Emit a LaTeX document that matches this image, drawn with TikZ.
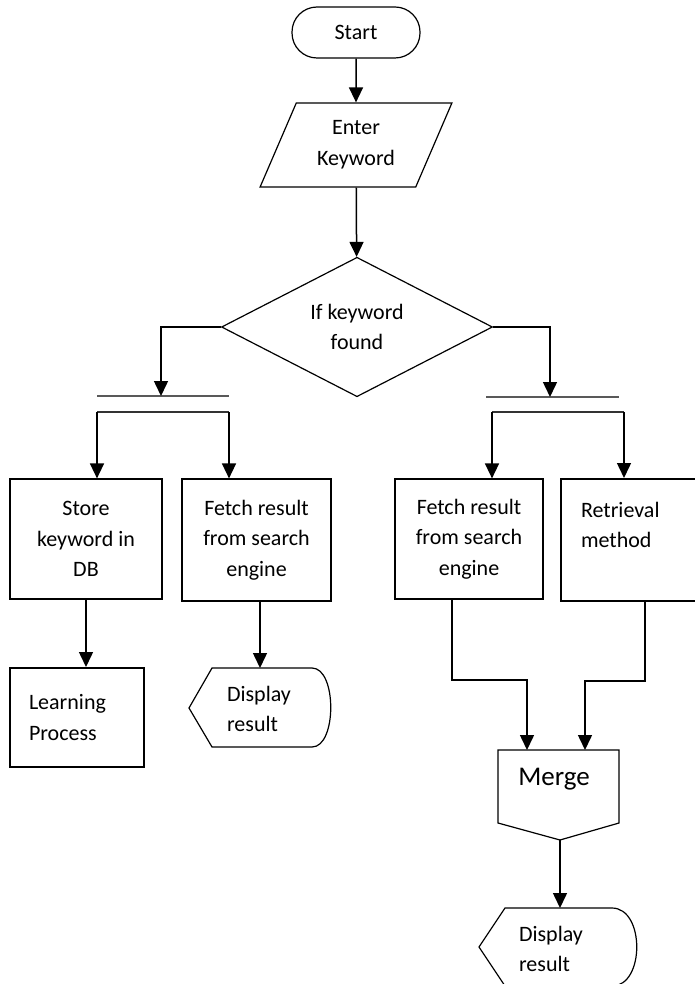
\documentclass[tikz,border=0pt]{standalone}
\usepackage{fontspec}
\setmainfont{Carlito}
\usetikzlibrary{arrows.meta}
\usetikzlibrary{shapes.geometric}
\usetikzlibrary{calc}

\tikzset{
  flow/.style={line width=1.5pt, -{Triangle[width=14pt,length=15pt]}},
  outline/.style={draw, line width=1.2pt},
  thickoutline/.style={draw, line width=2pt},
  bar/.style={line width=1.6pt, black!65},
  terminal/.style={outline, rounded corners=25pt, minimum width=128pt, minimum height=51pt},
  inout/.style={outline, trapezium, trapezium left angle=65, trapezium right angle=115,
    trapezium stretches=true, minimum width=192pt, minimum height=84pt, align=center},
  decision/.style={outline, diamond, inner sep=0pt, minimum width=271pt, minimum height=135pt, align=center},
  process/.style={outline, rectangle, align=center, inner sep=0pt}
}

\begin{document}
\begin{tikzpicture}[x=1pt, y=-1pt, font=\fontsize{22}{30.6}\selectfont]
  \useasboundingbox (0,0) rectangle (694,984);

  % top of the chart
  \node[terminal] (start) at (356,32.5) {Start};
  \node[inout] (kw) at (356,145) {Enter\\Keyword};
  \node[decision] (dec) at (357,327) {If keyword\\found};

  \draw[flow] (start) -- (kw);
  \draw[flow] (kw) -- (dec);

  % junction bars
  \coordinate (lbar) at (161,396);
  \coordinate (rbar) at (550,397);
  \draw[bar] (97,396) -- (229,396);
  \draw[bar] (486,397) -- (619,397);
  \draw[flow] (dec.west) -| (lbar);
  \draw[flow] (dec.east) -| (rbar);

  % second row
  \node[process, minimum width=152pt, minimum height=120pt] (store) at (86,539) {Store\\keyword in\\DB};
  \node[process, minimum width=149pt, minimum height=122pt] (fetchL) at (256.5,540) {Fetch result\\from search\\engine};
  \node[process, minimum width=148pt, minimum height=120pt] (fetchR) at (469,539) {Fetch result\\from search\\engine};
  \node[thickoutline, rectangle, inner sep=0pt, align=left, text width=100pt,
    minimum width=140pt, minimum height=122pt] (retr) at (631,540) {Retrieval\\method\\~};

  % split brackets
  \coordinate (lsplitL) at (97,412);
  \coordinate (lsplitR) at (229,412);
  \coordinate (rsplitL) at (492,412);
  \coordinate (rsplitR) at (624,412);
  \draw[bar, black!80] (lsplitL) -- (lsplitR);
  \draw[bar, black!80] (rsplitL) -- (rsplitR);
  \draw[flow] (lsplitL) -- (lsplitL |- store.north);
  \draw[flow] (lsplitR) -- (lsplitR |- fetchL.north);
  \draw[flow] (rsplitL) -- (rsplitL |- fetchR.north);
  \draw[flow] (rsplitR) -- (rsplitR |- retr.north);

  % left bottom
  \node[thickoutline, rectangle, inner sep=0pt, align=left, text width=96pt,
    minimum width=134pt, minimum height=99pt] (learn) at (77,717.5) {Learning\\Process};
  \draw[flow] (store.south) -- (store.south |- learn.north);

  \coordinate (disp1top) at (260,668);
  \draw[line width=1.2pt] (189,708) -- (disp1top -| 212,0) -- (312,668)
    .. controls (337,668) and (337,747) .. (312,747) -- (212,747) -- cycle;
  \node[align=left] (disp1) at (259,709) {Display\\result};
  \draw[flow] (fetchL.south -| disp1top) -- (disp1top);

  % merge
  \coordinate (mergeinL) at (527,750);
  \coordinate (mergeinR) at (585,750);
  \coordinate (mergeout) at (560,840);
  \draw[line width=1.2pt] (498,750) -- (619,750) -- (619,823) -- (mergeout) -- (498,823) -- cycle;
  \node (merge) at (554,779) {\fontsize{27}{32}\selectfont Merge};
  \draw[flow] ([xshift=-17pt]fetchR.south) |- ($(mergeinL)+(0,-70)$) -- (mergeinL);
  \draw[flow] ([xshift=14pt]retr.south) |- ($(mergeinR)+(0,-69)$) -- (mergeinR);

  % final display
  \coordinate (disp2top) at (560,908);
  \draw[line width=1.2pt] (479,947) -- (505,908) -- (612,908)
    .. controls (645,908) and (645,986) .. (612,986) -- (505,986) -- cycle;
  \node[align=left] (disp2) at (551,949) {Display\\result};
  \draw[flow] (mergeout) -- (disp2top);
\end{tikzpicture}
\end{document}
